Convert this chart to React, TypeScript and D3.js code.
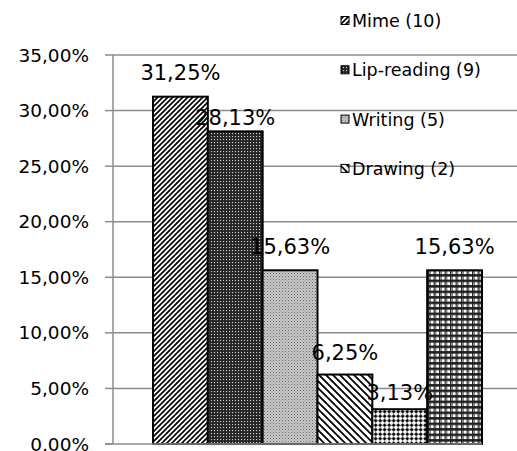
import React from "react";
import * as d3 from "d3";

const SERIES = ["Mime (10)", "Lip-reading (9)", "Writing (5)", "Drawing (2)", "Other A", "Other B"];
const LEGEND_SERIES = ["Mime (10)", "Lip-reading (9)", "Writing (5)", "Drawing (2)"];
const VALUES = [31.25, 28.13, 15.63, 6.25, 3.13, 15.63];
const TICKS = [0, 5, 10, 15, 20, 25, 30, 35];
const TICK_LABELS = ["0,00%", "5,00%", "10,00%", "15,00%", "20,00%", "25,00%", "30,00%", "35,00%"];

// styling constants
const PATTERN_IDS = ["pMime", "pLip", "pWrite", "pDraw", "pDots", "pGrid"];
const LABEL_LIFT = [24, 13, 23, 22, 16, 23];
const FONT = "'DejaVu Sans', sans-serif";
const GRID = "#8c8c8c";

const W = 517;
const H = 451;

export default function App() {
  const y = d3.scaleLinear().domain([0, 35]).range([444, 55]);
  const x = d3.scaleBand<string>().domain(SERIES).range([153, 482]).padding(0);
  const axisX = 113;
  const fmt = (v: number) => d3.format(".2f")(v).replace(".", ",") + "%";

  return (
    <div style={{ position: "absolute", left: 0, top: 0 }}>
      <svg width={W} height={H} style={{ display: "block", background: "#fff" }}>
        <defs>
          <pattern id="pMime" width={5} height={5} patternUnits="userSpaceOnUse">
            <rect width={5} height={5} fill="#fff" />
            <path d="M0,5 L5,0 M-1,1 L1,-1 M4,6 L6,4" stroke="#000" strokeWidth={1.7} />
          </pattern>
          <pattern id="pLip" width={3} height={3} patternUnits="userSpaceOnUse">
            <rect width={3} height={3} fill="#262626" />
            <rect x={1} y={1} width={1.1} height={1.1} fill="#d0d0d0" />
          </pattern>
          <pattern id="pWrite" width={3} height={3} patternUnits="userSpaceOnUse">
            <rect width={3} height={3} fill="#c8c8c8" />
            <rect x={0} y={0} width={1} height={1} fill="#6a6a6a" />
            <rect x={1.5} y={1.5} width={1} height={1} fill="#8a8a8a" />
          </pattern>
          <pattern id="pDraw" width={7} height={7} patternUnits="userSpaceOnUse">
            <rect width={7} height={7} fill="#fff" />
            <path d="M0,0 L7,7 M-1,6 L1,8 M6,-1 L8,1" stroke="#000" strokeWidth={1.8} />
          </pattern>
          <pattern id="pDots" width={4.5} height={4.5} patternUnits="userSpaceOnUse">
            <rect width={4.5} height={4.5} fill="#fff" />
            <rect x={1} y={1} width={2.4} height={2.4} fill="#000" />
            <rect x={1.7} y={0.3} width={1} height={3.8} fill="#000" />
            <rect x={0.3} y={1.7} width={3.8} height={1} fill="#000" />
          </pattern>
          <pattern id="pGrid" width={5.5} height={5.5} patternUnits="userSpaceOnUse">
            <rect width={5.5} height={5.5} fill="#1e1e1e" />
            <rect x={1.6} y={1.6} width={3} height={3} fill="#fff" />
            <rect x={0} y={1.6} width={1.2} height={3} fill="#9a9a9a" />
          </pattern>
        </defs>

        {/* gridlines */}
        {TICKS.filter((t) => t > 0).map((t) => (
          <line key={"g" + t} x1={axisX} x2={W} y1={y(t)} y2={y(t)} stroke={GRID} strokeWidth={1.5} />
        ))}
        {/* ticks */}
        {TICKS.map((t) => (
          <line key={"t" + t} x1={105} x2={axisX} y1={y(t)} y2={y(t)} stroke={GRID} strokeWidth={1.5} />
        ))}
        {/* tick labels */}
        {TICKS.map((t, i) => (
          <text
            key={"l" + t}
            x={89}
            y={y(t)}
            textAnchor="end"
            dominantBaseline="central"
            fontFamily={FONT}
            fontSize={18.5}
            fill="#000"
          >
            {TICK_LABELS[i]}
          </text>
        ))}

        {/* legend */}
        {LEGEND_SERIES.map((s, i) => {
          const cy = 21 + i * 49.3;
          return (
            <g key={"lg" + s}>
              <rect x={341} y={cy - 4.5} width={8} height={8} fill={`url(#${PATTERN_IDS[i]})`} stroke="#000" strokeWidth={1} />
              <text x={352} y={cy} dominantBaseline="central" fontFamily={FONT} fontSize={17.5} fill="#000">
                {s}
              </text>
            </g>
          );
        })}

        {/* bars */}
        {SERIES.map((s, i) => (
          <rect
            key={"b" + s}
            x={x(s)!}
            y={y(VALUES[i])}
            width={x.bandwidth()}
            height={y(0) - y(VALUES[i])}
            fill={`url(#${PATTERN_IDS[i]})`}
            stroke="#000"
            strokeWidth={2}
          />
        ))}

        {/* axes */}
        <line x1={axisX} x2={axisX} y1={y(35)} y2={y(0)} stroke={GRID} strokeWidth={1.5} />
        <line x1={105} x2={482} y1={y(0)} y2={y(0)} stroke={GRID} strokeWidth={1.5} />

        {/* data labels */}
        {SERIES.map((s, i) => (
          <text
            key={"d" + s}
            x={x(s)! + x.bandwidth() / 2}
            y={y(VALUES[i]) - LABEL_LIFT[i]}
            textAnchor="middle"
            dominantBaseline="central"
            fontFamily={FONT}
            fontSize={21}
            fill="#000"
          >
            {fmt(VALUES[i])}
          </text>
        ))}
      </svg>
    </div>
  );
}
